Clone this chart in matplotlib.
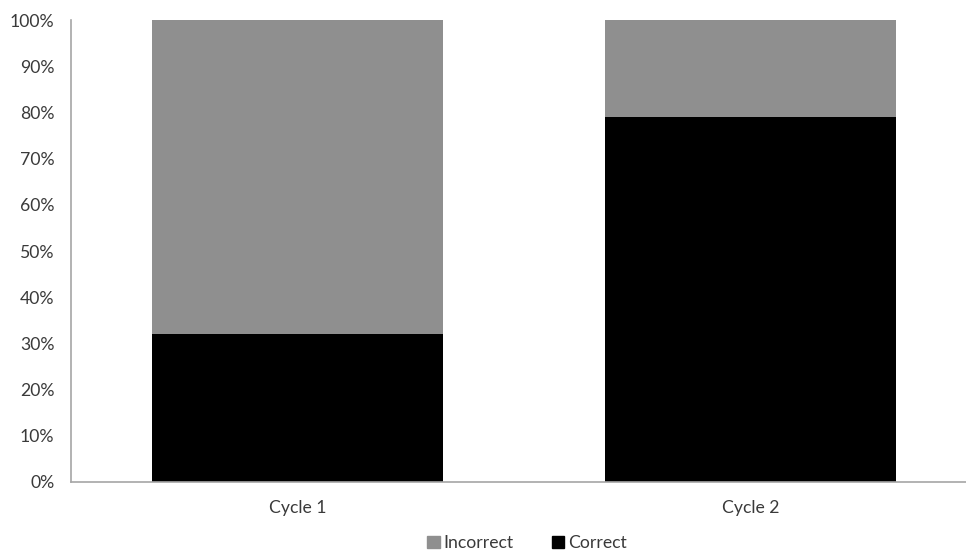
import matplotlib

matplotlib.use("Agg")
import matplotlib.pyplot as plt
from matplotlib.patches import Patch
from matplotlib.ticker import PercentFormatter

cycles = ["Cycle 1", "Cycle 2"]
correct = [32, 79]
incorrect = [68, 21]

plt.rcParams["font.family"] = ["Lato", "DejaVu Sans"]

fig = plt.figure(figsize=(9.66, 5.53), dpi=100)
ax = fig.add_axes((0.0735, 0.129, 0.9265, 0.834))

x = range(len(cycles))
ax.bar(x, correct, width=0.642, color="black", label="Correct")
ax.bar(x, incorrect, width=0.642, bottom=correct, color="#8f8f8f", label="Incorrect")

ax.set_xlim(-0.5, 1.476)
ax.set_ylim(0, 100)
ax.set_yticks(range(0, 101, 10))
ax.yaxis.set_major_formatter(PercentFormatter(decimals=0))
ax.set_xticks(list(x))
ax.set_xticklabels(cycles)
ax.tick_params(axis="both", length=0, labelsize=12.7, colors="#3a3a3a")
ax.tick_params(axis="y", pad=12)
ax.tick_params(axis="x", pad=13)

for side in ("top", "right"):
    ax.spines[side].set_visible(False)
for side in ("left", "bottom"):
    ax.spines[side].set_color("#a6a6a6")
    ax.spines[side].set_linewidth(1.2)

handles = [Patch(color="#8f8f8f", label="Incorrect"), Patch(color="black", label="Correct")]
fig.legend(handles=handles, loc="center", bbox_to_anchor=(527 / 966, 1 - 543 / 553),
           ncol=2, frameon=False, fontsize=12.7, handlelength=0.7, handleheight=0.7,
           handletextpad=0.2, columnspacing=2.2, labelcolor="#3a3a3a")

fig.savefig("out.png", dpi=100)
